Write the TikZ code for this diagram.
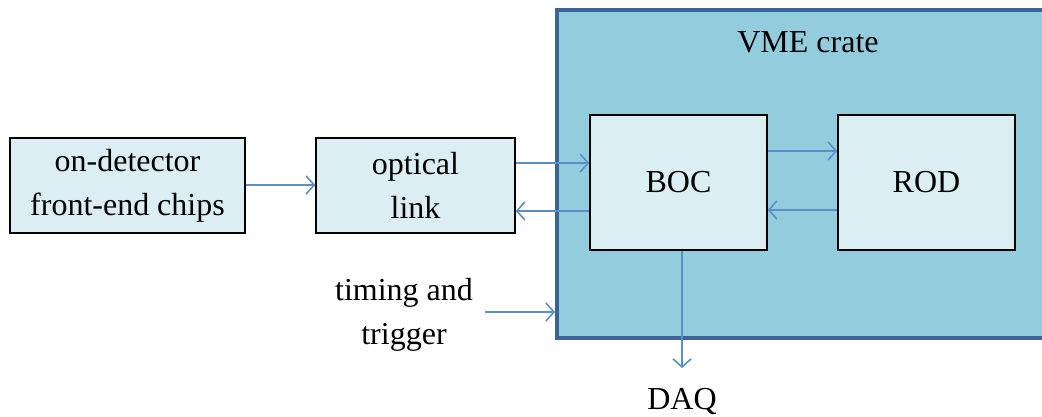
\documentclass[tikz,border=0pt]{standalone}
\usepackage{fontspec}
\setmainfont{Liberation Serif}
\usetikzlibrary{positioning}
\usetikzlibrary{arrows.meta}
\definecolor{boxfill}{HTML}{DAEEF3}
\definecolor{cratefill}{HTML}{93CDDD}
\definecolor{crateline}{HTML}{3C6496}
\definecolor{linkblue}{HTML}{5B8DC8}
\tikzset{
    block/.style = {rectangle, draw=black, line width=1.5pt, fill=boxfill, align=center, inner sep=0pt},
    crate/.style = {rectangle, draw=crateline, line width=4pt, fill=cratefill, inner sep=0pt},
    link/.style = {-{Straight Barb[length=8pt,width=18pt]}, linkblue, line width=1.6pt},
    label/.style = {align=center, inner sep=0pt}
}

\begin{document}
\begin{tikzpicture}[x=1pt, y=-1pt,
	font=\fontsize{32}{44}\selectfont]
  \useasboundingbox (0,0) rectangle (1042,417);
  \node[crate, minimum width=508, minimum height=328] (crate) at (811,174) {};
  \node[label] (vme) at (808,42) {VME crate};

  \node[block, minimum width=235, minimum height=95] (chips) at (127.5,185.5) {on-detector\\front-end chips};
  \node[block, minimum width=199, minimum height=95] (optical) at (415.5,185.5) {optical\\link};
  \node[block, minimum width=177, minimum height=135] (boc) at (678.5,182.5) {BOC};
  \node[block, minimum width=177, minimum height=135] (rod) at (926.5,182.5) {ROD};

  \node[label] (timing) at (404,315) {timing and\\trigger};
  \node[label] (daq) at (682,401) {DAQ};
  \coordinate (tin) at (485,312);

  \draw[link] (chips.east |- 0,185) -- (optical.west |- 0,185);
  \draw[link] (optical.east |- 0,163) -- (boc.west |- 0,163);
  \draw[link] (boc.west |- 0,211) -- (optical.east |- 0,211);
  \draw[link] (boc.east |- 0,151) -- (rod.west |- 0,151);
  \draw[link] (rod.west |- 0,210) -- (boc.east |- 0,210);
  \draw[link] (tin) -- (crate.west |- tin);
  \draw[link] (boc.south -| 682,0) -- (682,368);
\end{tikzpicture}
\end{document}
